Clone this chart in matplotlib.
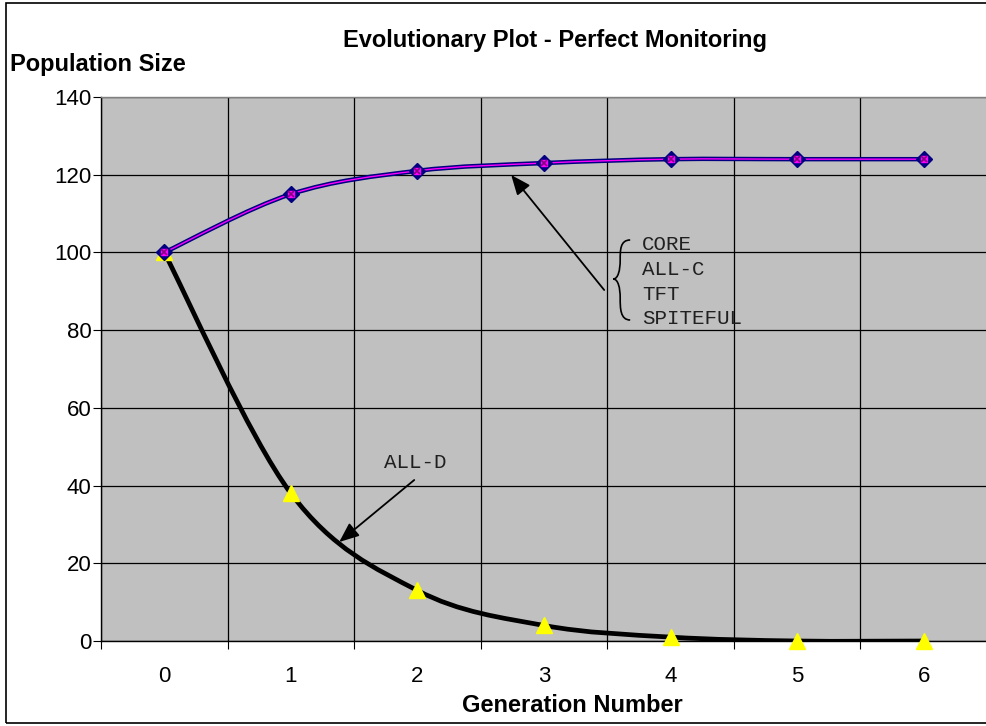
import numpy as np
import matplotlib.pyplot as plt
from matplotlib.path import Path
from matplotlib.patches import PathPatch, Rectangle

### data ###
generations = [0, 1, 2, 3, 4, 5, 6]
cooperators = [100, 115, 121, 123, 124, 124, 124]   # CORE, ALL-C, TFT, SPITEFUL (overlapping)
all_d = [100, 38, 13, 4, 1, 0, 0]
y_ticks = [0, 20, 40, 60, 80, 100, 120, 140]
group_labels = ["CORE", "ALL-C", "TFT", "SPITEFUL"]


### smoothed line like the spreadsheet "smoothed line" option ###
def smooth_path(xs, ys):
    pts = np.column_stack([xs, ys]).astype(float)
    ext = np.vstack([pts[0], pts, pts[-1]])
    verts = [pts[0]]
    codes = [Path.MOVETO]
    for i in range(len(pts) - 1):
        p0, p1, p2, p3 = ext[i], ext[i + 1], ext[i + 2], ext[i + 3]
        c1 = p1 + (p2 - p0) / 6.0
        c2 = p2 - (p3 - p1) / 6.0
        verts += [c1, c2, p2]
        codes += [Path.CURVE4] * 3
    return Path(verts, codes)


W, H = 987, 726
fig = plt.figure(figsize=(W / 100, H / 100), dpi=100)
fig.patch.set_facecolor("white")
plt.rcParams["font.family"] = ["Liberation Sans", "DejaVu Sans"]

# plot area in pixels: x 101..986, y 97..641
ax = fig.add_axes([101 / W, (H - 641) / H, (987 - 101) / W, (641 - 97) / H])
ax.set_facecolor("#c0c0c0")
ax.set_xlim(-0.5, 6.5)
ax.set_ylim(0, 140)

# category axis: ticks/grid at boundaries, labels in the middle
ax.set_xticks(np.arange(-0.5, 7, 1))
ax.set_xticklabels([])
ax.set_xticks(generations, minor=True)
ax.set_xticklabels([str(g) for g in generations], minor=True, fontsize=16)
ax.tick_params(axis="x", which="minor", length=0, pad=18)
ax.tick_params(axis="x", which="major", length=6, width=0.8, direction="out")
ax.set_yticks(y_ticks)
ax.set_yticklabels([str(v) for v in y_ticks], fontsize=16)
ax.tick_params(axis="y", length=6, width=0.8, direction="out", pad=1)
ax.grid(True, which="major", color="black", linewidth=0.9)
ax.set_axisbelow(True)
for sp in ax.spines.values():
    sp.set_color("#808080")
    sp.set_linewidth(1)
ax.spines["bottom"].set_color("black")
ax.spines["left"].set_color("black")

# ALL-D (black, yellow triangles)
ax.add_patch(PathPatch(smooth_path(generations, all_d), fill=False,
                       edgecolor="black", linewidth=3.4, zorder=3, capstyle="round"))
ax.plot(generations, all_d, linestyle="none", marker="^", markersize=11,
        color="#ffff00", markeredgecolor="#ffff00", zorder=4, clip_on=False)

# cooperative strategies (navy + magenta overlapping)
ax.add_patch(PathPatch(smooth_path(generations, cooperators), fill=False,
                       edgecolor="#000080", linewidth=3.2, zorder=5))
ax.add_patch(PathPatch(smooth_path(generations, cooperators), fill=False,
                       edgecolor="#ff00ff", linewidth=1.0, zorder=6))
ax.plot(generations, cooperators, linestyle="none", marker="D", markersize=8,
        color="#000080", zorder=7)
ax.plot(generations, cooperators, linestyle="none", marker="s", markersize=4.5,
        color="#ff00ff", markeredgecolor="#ff00ff", zorder=8)
ax.plot(generations, cooperators, linestyle="none", marker="x", markersize=5,
        color="#800080", markeredgewidth=1.2, zorder=9)


# pixel position -> data coordinates
def px(x, y):
    return ((x - 165) / 126.6, (641 - y) / 544 * 140)


# annotations
mono = ["Liberation Mono", "DejaVu Sans Mono"]
for k, lab in enumerate(group_labels):
    ax.text(*px(643, 245 + k * 24.5), lab, family=mono, fontsize=15,
            color="#202020", va="center", ha="left", zorder=10)

# curly brace drawn as bezier path
brace = [px(631, 240), px(621, 240), px(621, 250), px(621, 260),
         px(621, 270), px(619, 279), px(614, 279),
         px(619, 279), px(621, 288), px(621, 298),
         px(621, 308), px(621, 320), px(631, 320)]
bcodes = [Path.MOVETO] + [Path.CURVE4] * 12
ax.add_patch(PathPatch(Path(brace, bcodes), fill=False, edgecolor="black",
                       linewidth=1.2, zorder=10))

ax.annotate("", xy=px(512, 175), xytext=px(605, 290),
            arrowprops=dict(arrowstyle="-|>,head_length=1.2,head_width=0.5",
                            color="black", linewidth=1.3, shrinkA=0, shrinkB=0), zorder=10)
ax.annotate("", xy=px(340, 542), xytext=px(415, 480),
            arrowprops=dict(arrowstyle="-|>,head_length=1.2,head_width=0.5",
                            color="black", linewidth=1.3, shrinkA=0, shrinkB=0), zorder=10)
ax.text(*px(416, 463), "ALL-D", family=mono, fontsize=15, color="#202020",
        ha="center", va="center", zorder=10)

# titles
fig.text(555 / W, 1 - 40 / H, "Evolutionary Plot - Perfect Monitoring",
         fontsize=17, fontweight="bold", ha="center", va="center")
fig.text(10 / W, 1 - 64 / H, "Population Size",
         fontsize=17, fontweight="bold", ha="left", va="center")
fig.text(572 / W, 1 - 705 / H, "Generation Number",
         fontsize=17, fontweight="bold", ha="center", va="center")

# outer chart frame
fig.patches.append(Rectangle((6 / W, 3 / H), (1000 - 6) / W, (723 - 3) / H,
                             transform=fig.transFigure, fill=False,
                             edgecolor="black", linewidth=1.2))

fig.savefig("out.png", dpi=100)
